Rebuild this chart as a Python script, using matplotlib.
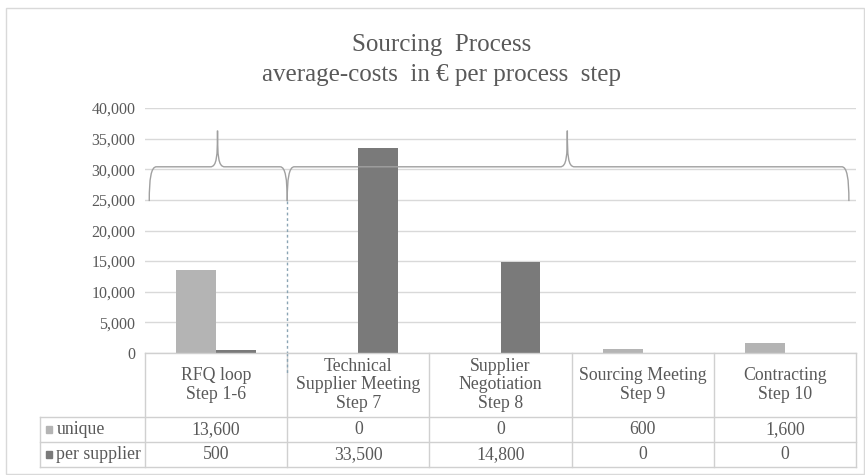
import matplotlib
matplotlib.use("Agg")
import matplotlib.pyplot as plt
from matplotlib.path import Path
from matplotlib.patches import PathPatch, Rectangle

plt.rcParams['font.family'] = ['Liberation Serif', 'DejaVu Serif']

# data
categories = ["RFQ loop\nStep 1-6", "Technical\nSupplier Meeting\nStep 7",
              "Supplier\nNegotiation\nStep 8", "Sourcing Meeting\nStep 9",
              "Contracting\nStep 10"]
series_names = ["unique", "per supplier"]
unique = [13600, 0, 0, 600, 1600]
per_supplier = [500, 33500, 14800, 0, 0]
yticks = [0, 5000, 10000, 15000, 20000, 25000, 30000, 35000, 40000]

c_unique = "#b4b4b4"
c_per = "#7a7a7a"
txt = "#595959"
line_c = "#d9d9d9"

W, H = 865, 475
fig = plt.figure(figsize=(W / 100, H / 100), dpi=100)

def px(x0, y0, x1, y1):
    return [x0 / W, 1 - y1 / H, (x1 - x0) / W, (y1 - y0) / H]

ax = fig.add_axes(px(145, 108, 856, 353))

# outer chart border
fig.patches.append(Rectangle((6 / W, 1 / H), 858 / W, 466 / H, transform=fig.transFigure,
                             fill=False, ec="#d9d9d9", lw=1.0))

xs = list(range(len(categories)))
bw = 0.28
ax.bar([x - bw / 2 for x in xs], unique, bw, color=c_unique, zorder=3)
ax.bar([x + bw / 2 for x in xs], per_supplier, bw, color=c_per, zorder=3)

ax.set_xlim(-0.5, len(categories) - 0.5)
ax.set_ylim(0, 40000)
ax.set_yticks(yticks)
ax.set_yticklabels([f"{v:,}" for v in yticks])
ax.set_xticks([])
ax.tick_params(axis="y", length=0, labelsize=11.5, labelcolor=txt, pad=7)
ax.grid(axis="y", color=line_c, lw=1, zorder=0)
for s in ax.spines.values():
    s.set_visible(False)

# curly braces
def brace(x0, x1, xm, yb, yh, yp, rx):
    verts = [(x0, yb),
             (x0, yh - (yh - yb) * 0.35), (x0 + rx * 0.25, yh), (x0 + rx, yh),
             (xm - rx, yh),
             (xm - rx * 0.1, yh), (xm, yh + (yp - yh) * 0.3), (xm, yp),
             (xm, yh + (yp - yh) * 0.3), (xm + rx * 0.1, yh), (xm + rx, yh),
             (x1 - rx, yh),
             (x1 - rx * 0.25, yh), (x1, yh - (yh - yb) * 0.35), (x1, yb)]
    codes = [Path.MOVETO, Path.CURVE4, Path.CURVE4, Path.CURVE4, Path.LINETO,
             Path.CURVE4, Path.CURVE4, Path.CURVE4, Path.CURVE4, Path.CURVE4, Path.CURVE4,
             Path.LINETO, Path.CURVE4, Path.CURVE4, Path.CURVE4]
    ax.add_patch(PathPatch(Path(verts, codes), fill=False, ec="#a0a0a0", lw=1.0,
                           zorder=4, clip_on=False))

brace(-0.47, 0.5, 0.01, 24800, 30400, 36300, 0.05)
brace(0.5, 4.45, 2.47, 24800, 30400, 36300, 0.05)

# dashed divider
ax.plot([0.5, 0.5], [24800, 0], color="#8aa4b4", lw=1, ls=(0, (2, 2)), zorder=4)
ax.plot([0.5, 0.5], [0, -0.09], color="#8aa4b4", lw=1, ls=(0, (2, 2)), zorder=4,
        transform=ax.get_xaxis_transform(), clip_on=False)

# data table below the axis
tr = ax.get_xaxis_transform()
left = -0.5 - 105 / 142.2
right = len(categories) - 0.5
r0, r1, r2, r3 = 0.0, -0.261, -0.363, -0.465
tbl_c = "#d0d0d0"
fs = 12.8
ax.plot([-0.5, right], [r0, r0], color=tbl_c, lw=1, transform=tr, clip_on=False, zorder=5)
for r in (r1, r2, r3):
    ax.plot([left, right], [r, r], color=tbl_c, lw=1, transform=tr, clip_on=False)
ax.plot([left, left], [r1, r3], color=tbl_c, lw=1, transform=tr, clip_on=False)
for i in range(len(categories) + 1):
    ax.plot([i - 0.5, i - 0.5], [r0, r3], color=tbl_c, lw=1, transform=tr, clip_on=False)

for i, lab in enumerate(categories):
    ax.text(i, (r0 + r1) / 2, lab, transform=tr, ha="center", va="center",
            fontsize=fs, color=txt, linespacing=1.1)
rows = [(series_names[0], unique, c_unique, (r1 + r2) / 2),
        (series_names[1], per_supplier, c_per, (r2 + r3) / 2)]
for name, vals, col, yc in rows:
    ax.add_patch(Rectangle((left + 0.045, yc - 0.014), 0.042, 0.028, transform=tr,
                           color=col, clip_on=False))
    ax.text(left + 0.115, yc, name, transform=tr, ha="left", va="center",
            fontsize=fs, color=txt)
    for i, v in enumerate(vals):
        ax.text(i, yc, f"{v:,}", transform=tr, ha="center", va="center",
                fontsize=fs, color=txt)

fig.text(442 / W, 1 - 45 / H, "Sourcing  Process", ha="center", va="center",
         fontsize=18, color=txt)
fig.text(442 / W, 1 - 75 / H, "average-costs  in € per process  step", ha="center",
         va="center", fontsize=18, color=txt)

fig.savefig("out.png", dpi=100)
